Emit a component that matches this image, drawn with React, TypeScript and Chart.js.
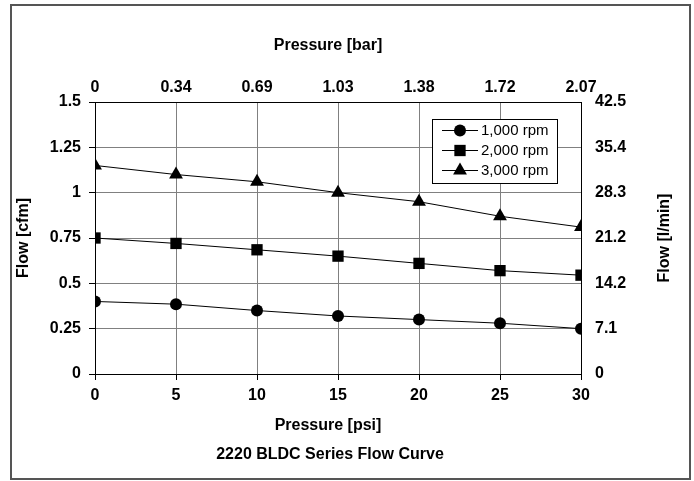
import React, { useEffect, useRef } from "react";
import { Chart, registerables } from "chart.js";

Chart.register(...registerables);

const psiValues = [0, 5, 10, 15, 20, 25, 30];
const barTickLabels = ["0", "0.34", "0.69", "1.03", "1.38", "1.72", "2.07"];
const cfmTickLabels = ["0", "0.25", "0.5", "0.75", "1", "1.25", "1.5"];
const lpmTickLabels = ["0", "7.1", "14.2", "21.2", "28.3", "35.4", "42.5"];
const seriesNames = ["1,000 rpm", "2,000 rpm", "3,000 rpm"];
const flow1000 = [0.4, 0.385, 0.35, 0.32, 0.3, 0.28, 0.25];
const flow2000 = [0.75, 0.72, 0.685, 0.65, 0.61, 0.57, 0.545];
const flow3000 = [1.15, 1.1, 1.06, 1.0, 0.95, 0.87, 0.81];
const pointStyles = ["circle", "rect", "triangle"];
const pointRadii = [6, 8, 8];
const rightTitle = "Flow [l/min]";
const topTitle = "Pressure [bar]";
const bottomTitle = "Pressure [psi]";
const chartTitle = "2220 BLDC Series Flow Curve";

const FONT = "'Liberation Sans', Arial, sans-serif";
const FS = 16;

const framePlugin = {
  id: "frame",
  beforeDraw(chart: any) {
    const ctx = chart.ctx;
    ctx.save();
    ctx.fillStyle = "#ffffff";
    ctx.fillRect(0, 0, chart.width, chart.height);
    ctx.strokeStyle = "#555555";
    ctx.lineWidth = 2;
    ctx.strokeRect(11, 5, 679, 474);
    ctx.restore();
  },
  afterDraw(chart: any) {
    const ctx = chart.ctx;
    const area = chart.chartArea;
    ctx.save();
    ctx.fillStyle = "#000000";
    ctx.font = `bold ${FS}px ${FONT}`;
    ctx.textAlign = "center";
    ctx.textBaseline = "middle";
    ctx.fillText(topTitle, 328, 46);
    ctx.fillText(bottomTitle, 328, 426);
    ctx.fillText(chartTitle, 330, 455);
    ctx.translate(665, (area.top + area.bottom) / 2);
    ctx.rotate(-Math.PI / 2);
    ctx.fillText(rightTitle, 0, 0);
    ctx.restore();
  },
};

function drawMarker(ctx: CanvasRenderingContext2D, style: string, r: number, x: number, y: number) {
  ctx.beginPath();
  if (style === "circle") {
    ctx.arc(x, y, r, 0, Math.PI * 2);
  } else if (style === "rect") {
    const s = r * Math.SQRT1_2;
    ctx.rect(x - s, y - s, 2 * s, 2 * s);
  } else {
    let rad = 0;
    ctx.moveTo(x + Math.sin(rad) * r, y - Math.cos(rad) * r);
    rad += (2 * Math.PI) / 3;
    ctx.lineTo(x + Math.sin(rad) * r, y - Math.cos(rad) * r);
    rad += (2 * Math.PI) / 3;
    ctx.lineTo(x + Math.sin(rad) * r, y - Math.cos(rad) * r);
  }
  ctx.closePath();
  ctx.fill();
}

const legendPlugin = {
  id: "boxLegend",
  afterDatasetsDraw(chart: any) {
    const ctx = chart.ctx;
    const x0 = 432.5, y0 = 119.5, w = 125, h = 64;
    ctx.save();
    ctx.fillStyle = "#ffffff";
    ctx.fillRect(x0, y0, w, h);
    ctx.strokeStyle = "#000000";
    ctx.lineWidth = 1;
    ctx.strokeRect(x0, y0, w, h);
    chart.data.datasets.forEach((ds: any, i: number) => {
      const y = 130 + i * 20;
      ctx.beginPath();
      ctx.strokeStyle = "#000000";
      ctx.lineWidth = 1;
      ctx.moveTo(442, y + 0.5);
      ctx.lineTo(478, y + 0.5);
      ctx.stroke();
      ctx.fillStyle = "#000000";
      drawMarker(ctx, ds.pointStyle, ds.pointRadius, 460, y + 0.5);
      ctx.font = `15px ${FONT}`;
      ctx.textBaseline = "middle";
      ctx.textAlign = "left";
      ctx.fillText(ds.label, 481, y + 1);
    });
    ctx.restore();
  },
};

export default function App() {
  const ref = useRef<HTMLCanvasElement>(null);
  useEffect(() => {
    if (!ref.current) return;
    const allSeries = [flow1000, flow2000, flow3000];
    const boldFont = { family: FONT, size: FS, weight: "bold" };
    const chart = new Chart(ref.current, {
      type: "line",
      data: {
        datasets: allSeries.map((vals, i) => ({
          label: seriesNames[i],
          data: psiValues.map((x, j) => ({ x, y: vals[j] })),
          borderColor: "#000000",
          backgroundColor: "#000000",
          borderWidth: 1,
          pointStyle: pointStyles[i] as any,
          pointRadius: pointRadii[i],
          pointBackgroundColor: "#000000",
          pointBorderWidth: 0,
          xAxisID: "x",
          yAxisID: "y",
          tension: 0,
        })),
      },
      options: {
        animation: false,
        responsive: false,
        devicePixelRatio: 1,
        layout: { padding: { left: 10, right: 16, top: 34, bottom: 8 } },
        plugins: {
          legend: { display: false },
          tooltip: { enabled: false },
          title: { display: false },
        },
        scales: {
          x: {
            type: "linear",
            position: "bottom",
            min: 0,
            max: 30,
            afterFit: (s: any) => { s.height = 99; },
            ticks: {
              stepSize: 5,
              color: "#000000",
              font: boldFont,
              padding: 6,
              maxRotation: 0,
            },
            grid: { color: "#808080", lineWidth: 1, tickLength: 6, tickColor: "#000000" },
            border: { color: "#000000", width: 1 },
            title: { display: false },
          },
          x2: {
            type: "linear",
            position: "top",
            min: 0,
            max: 30,
            afterFit: (s: any) => { s.height = 68; },
            afterBuildTicks: (s: any) => {
              s.ticks = psiValues.map((v) => ({ value: v }));
            },
            ticks: {
              color: "#000000",
              font: boldFont,
              padding: 5,
              maxRotation: 0,
              callback: (_v: any, i: number) => barTickLabels[i],
            },
            grid: { display: false, drawTicks: false },
            border: { color: "#000000", width: 1 },
            title: { display: false },
          },
          y: {
            type: "linear",
            position: "left",
            min: 0,
            max: 1.5,
            afterFit: (s: any) => { s.width = 85; },
            afterBuildTicks: (s: any) => {
              s.ticks = cfmTickLabels.map((_l, i) => ({ value: i * 0.25 }));
            },
            ticks: {
              color: "#000000",
              font: boldFont,
              padding: 8,
              callback: (_v: any, i: number) => cfmTickLabels[i],
            },
            grid: { color: "#808080", lineWidth: 1, tickLength: 6, tickColor: "#000000" },
            border: { color: "#000000", width: 1 },
            title: {
              display: true,
              text: "Flow [cfm]",
              color: "#000000",
              font: boldFont,
              padding: { top: 4, bottom: 4 },
            },
          },
          y2: {
            type: "linear",
            position: "right",
            min: 0,
            max: 1.5,
            afterFit: (s: any) => { s.width = 97; },
            afterBuildTicks: (s: any) => {
              s.ticks = lpmTickLabels.map((_l, i) => ({ value: i * 0.25 }));
            },
            ticks: {
              color: "#000000",
              font: boldFont,
              padding: 14,
              callback: (_v: any, i: number) => lpmTickLabels[i],
            },
            grid: { display: false, drawTicks: false },
            border: { color: "#000000", width: 1 },
            title: { display: false },
          },
        },
      },
      plugins: [framePlugin, legendPlugin],
    } as any);
    return () => chart.destroy();
  }, []);
  return (
    <div style={{ position: "absolute", left: 0, top: 0, width: 694, height: 481 }}>
      <canvas ref={ref} width={694} height={481} style={{ width: 694, height: 481, display: "block" }} />
    </div>
  );
}
